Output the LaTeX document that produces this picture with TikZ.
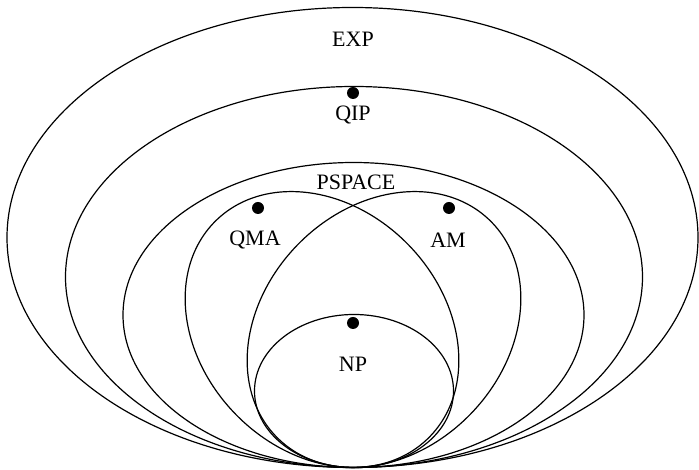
\documentclass[tikz,border=0pt]{standalone}
\usepackage{fontspec}
\setmainfont{Liberation Serif}
\begin{document}
\begin{tikzpicture}[x=1pt, y=1pt, line width=1.2pt,
  every node/.style={font=\fontsize{22}{26}\selectfont},
  cls/.style={fill=black}]
  \useasboundingbox (0,0) rectangle (699,470);
  % nested classes, all touching at the bottom
  \draw (352.5,232.5) ellipse [x radius=345.5pt, y radius=230pt];
  \draw (354,193) ellipse [x radius=288.5pt, y radius=190.5pt];
  \draw (353.5,155) ellipse [x radius=230.5pt, y radius=152.5pt];
  \begin{scope}[shift={(322,140.5)}, rotate=-46]
    \draw (0,0) ellipse [x radius=152pt, y radius=121pt];
  \end{scope}
  \begin{scope}[shift={(384,140.5)}, rotate=46]
    \draw (0,0) ellipse [x radius=152pt, y radius=121pt];
  \end{scope}
  \draw (354,79) ellipse [x radius=99.5pt, y radius=76.5pt];
  % complete problems
  \fill[cls] (353,377) circle (6pt);
  \fill[cls] (258,262) circle (6pt);
  \fill[cls] (449,262) circle (6pt);
  \fill[cls] (353,147) circle (6pt);
  \node (exp) at (353,431) {EXP};
  \node (qip) at (353,355) {QIP};
  \node (pspace) at (356,288) {PSPACE};
  \node (qma) at (255,230) {QMA};
  \node (am) at (448,230) {AM};
  \node (np) at (353,106) {NP};
\end{tikzpicture}
\end{document}
